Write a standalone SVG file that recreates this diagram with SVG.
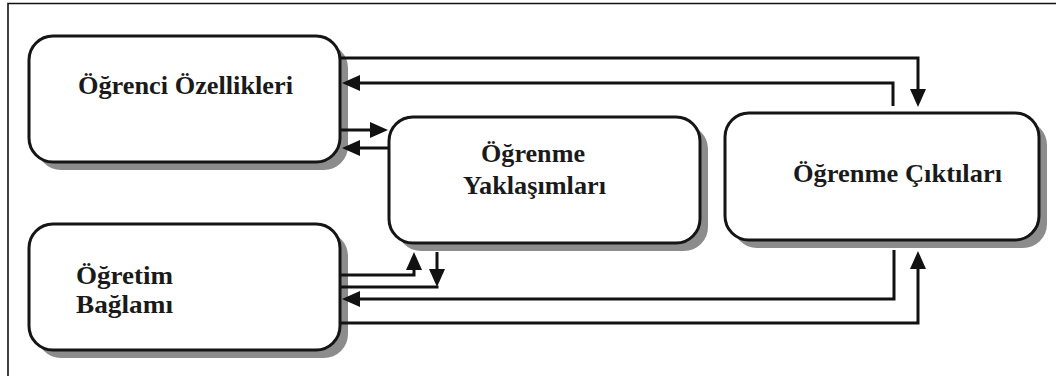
<svg xmlns="http://www.w3.org/2000/svg" width="1056" height="376" viewBox="0 0 1056 376">
  <style>
    .frame { fill: none; stroke: #111; stroke-width: 1.6; }
    .shadow { fill: #8c8c8c; }
    .box { fill: #fff; stroke: #151515; stroke-width: 3; }
    .label { font-family: "Liberation Serif", "Times New Roman", serif; font-weight: 700; font-size: 26px; fill: #1a1a1a; }
    .conn { fill: none; stroke: #111; stroke-width: 3; stroke-linejoin: miter; }
  </style>
  <defs>
    <marker id="arrow" viewBox="0 0 18 16" refX="6" refY="8" markerWidth="18" markerHeight="16" markerUnits="userSpaceOnUse" orient="auto">
      <path d="M0,0 L18,8 L0,16 z" fill="#111"/>
    </marker>
  </defs>

  <rect x="0" y="0" width="1056" height="376" fill="#fff"/>
  <!-- outer frame, open towards the right and bottom -->
  <path class="frame" d="M8,380 V3.5 H1060"/>

  <!-- node shadows (drawn first so connectors pass over them) -->
  <g id="shadows">
    <rect class="shadow" x="37" y="44" width="311" height="126" rx="24"/>
    <rect class="shadow" x="397" y="125" width="311" height="126" rx="24"/>
    <rect class="shadow" x="733" y="121" width="314" height="127" rx="24"/>
    <rect class="shadow" x="37" y="232" width="311" height="126" rx="24"/>
  </g>

  <g id="connectors">
    <!-- Öğrenci Özellikleri → Öğrenme Çıktıları -->
    <path class="conn" d="M341,58 H918 V95" marker-end="url(#arrow)"/>
    <!-- Öğrenme Çıktıları → Öğrenci Özellikleri -->
    <path class="conn" d="M893,106 V83 H354" marker-end="url(#arrow)"/>
    <!-- Öğrenci Özellikleri ⇄ Öğrenme Yaklaşımları -->
    <path class="conn" d="M341,130 H376" marker-end="url(#arrow)"/>
    <path class="conn" d="M388,148 H354" marker-end="url(#arrow)"/>
    <!-- Öğretim Bağlamı ⇄ Öğrenme Yaklaşımları -->
    <path class="conn" d="M341,275 H414 V264" marker-end="url(#arrow)"/>
    <path class="conn" d="M437,252 V275" marker-end="url(#arrow)"/>
    <path class="conn" d="M438.5,287 H341"/>
    <!-- Öğrenme Çıktıları ⇄ Öğretim Bağlamı -->
    <path class="conn" d="M894,250 V299 H354" marker-end="url(#arrow)"/>
    <path class="conn" d="M341,323 H918 V263" marker-end="url(#arrow)"/>
  </g>

  <g id="ogrenci-ozellikleri">
    <rect class="box" x="29" y="36" width="311" height="126" rx="24"/>
    <text class="label" x="78" y="94" textLength="215" lengthAdjust="spacingAndGlyphs">Öğrenci Özellikleri</text>
  </g>

  <g id="ogrenme-yaklasimlari">
    <rect class="box" x="389" y="117" width="311" height="126" rx="24"/>
    <text class="label" x="481" y="162" textLength="104" lengthAdjust="spacingAndGlyphs">Öğrenme</text>
    <text class="label" x="463" y="194" textLength="143" lengthAdjust="spacingAndGlyphs">Yaklaşımları</text>
  </g>

  <g id="ogrenme-ciktilari">
    <rect class="box" x="725" y="113" width="314" height="127" rx="24"/>
    <text class="label" x="793" y="182" textLength="209" lengthAdjust="spacingAndGlyphs">Öğrenme Çıktıları</text>
  </g>

  <g id="ogretim-baglami">
    <rect class="box" x="29" y="224" width="311" height="126" rx="24"/>
    <text class="label" x="76" y="284" textLength="97" lengthAdjust="spacingAndGlyphs">Öğretim</text>
    <text class="label" x="76" y="313" textLength="97" lengthAdjust="spacingAndGlyphs">Bağlamı</text>
  </g>
</svg>
